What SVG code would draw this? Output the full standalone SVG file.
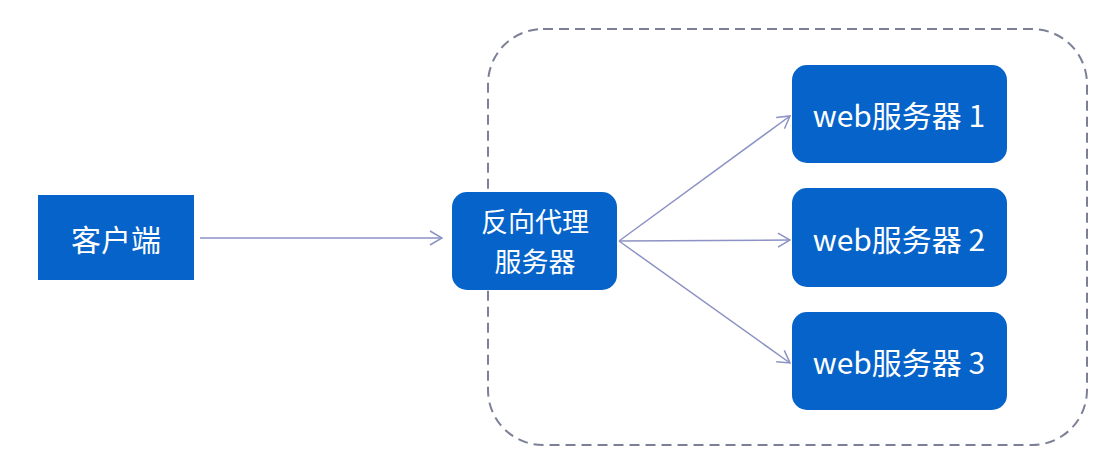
<svg xmlns="http://www.w3.org/2000/svg" width="1101" height="454" viewBox="0 0 1101 454">
<style>
.box{fill:#0563CA;}
.lbl{fill:#ffffff;font-family:"Noto Sans CJK SC","Noto Sans",sans-serif;font-size:30px;text-anchor:middle;dominant-baseline:central;}
.lbl2{font-size:27px;}
.conn{stroke:#8C92C4;stroke-width:1.5;fill:none;marker-end:url(#arr);}
</style>
<defs>
<marker id="arr" viewBox="0 0 14 16" refX="13" refY="8" markerWidth="14" markerHeight="16" markerUnits="userSpaceOnUse" orient="auto">
<path d="M1,1 L13,8 L1,15" fill="none" stroke="#8C92C4" stroke-width="1.5"/>
</marker>
</defs>
<rect width="1101" height="454" fill="#ffffff"/>
<g id="container">
<rect x="488" y="29" width="599" height="416" rx="55" ry="55" fill="none" stroke="#7C8096" stroke-width="2" stroke-dasharray="10 6"/>
</g>
<g id="connectors">
<line class="conn" x1="200" y1="238" x2="442" y2="238"/>
<line class="conn" x1="619" y1="241" x2="790" y2="116"/>
<line class="conn" x1="619" y1="241" x2="790" y2="240"/>
<line class="conn" x1="619" y1="241" x2="790" y2="363"/>
</g>
<g id="client">
<rect class="box" x="38" y="195" width="156" height="85"/>
<text class="lbl" x="116" y="238">客户端</text>
</g>
<g id="proxy">
<rect class="box" x="452" y="192" width="165" height="98" rx="15" ry="15"/>
<text class="lbl lbl2" x="535" y="220">反向代理</text>
<text class="lbl lbl2" x="535" y="260">服务器</text>
</g>
<g id="web1">
<rect class="box" x="792" y="65" width="215" height="98" rx="15" ry="15"/>
<text class="lbl" x="899" y="114">web服务器 1</text>
</g>
<g id="web2">
<rect class="box" x="792" y="188" width="215" height="99" rx="15" ry="15"/>
<text class="lbl" x="899" y="238">web服务器 2</text>
</g>
<g id="web3">
<rect class="box" x="792" y="312" width="215" height="98" rx="15" ry="15"/>
<text class="lbl" x="899" y="361">web服务器 3</text>
</g>
</svg>
